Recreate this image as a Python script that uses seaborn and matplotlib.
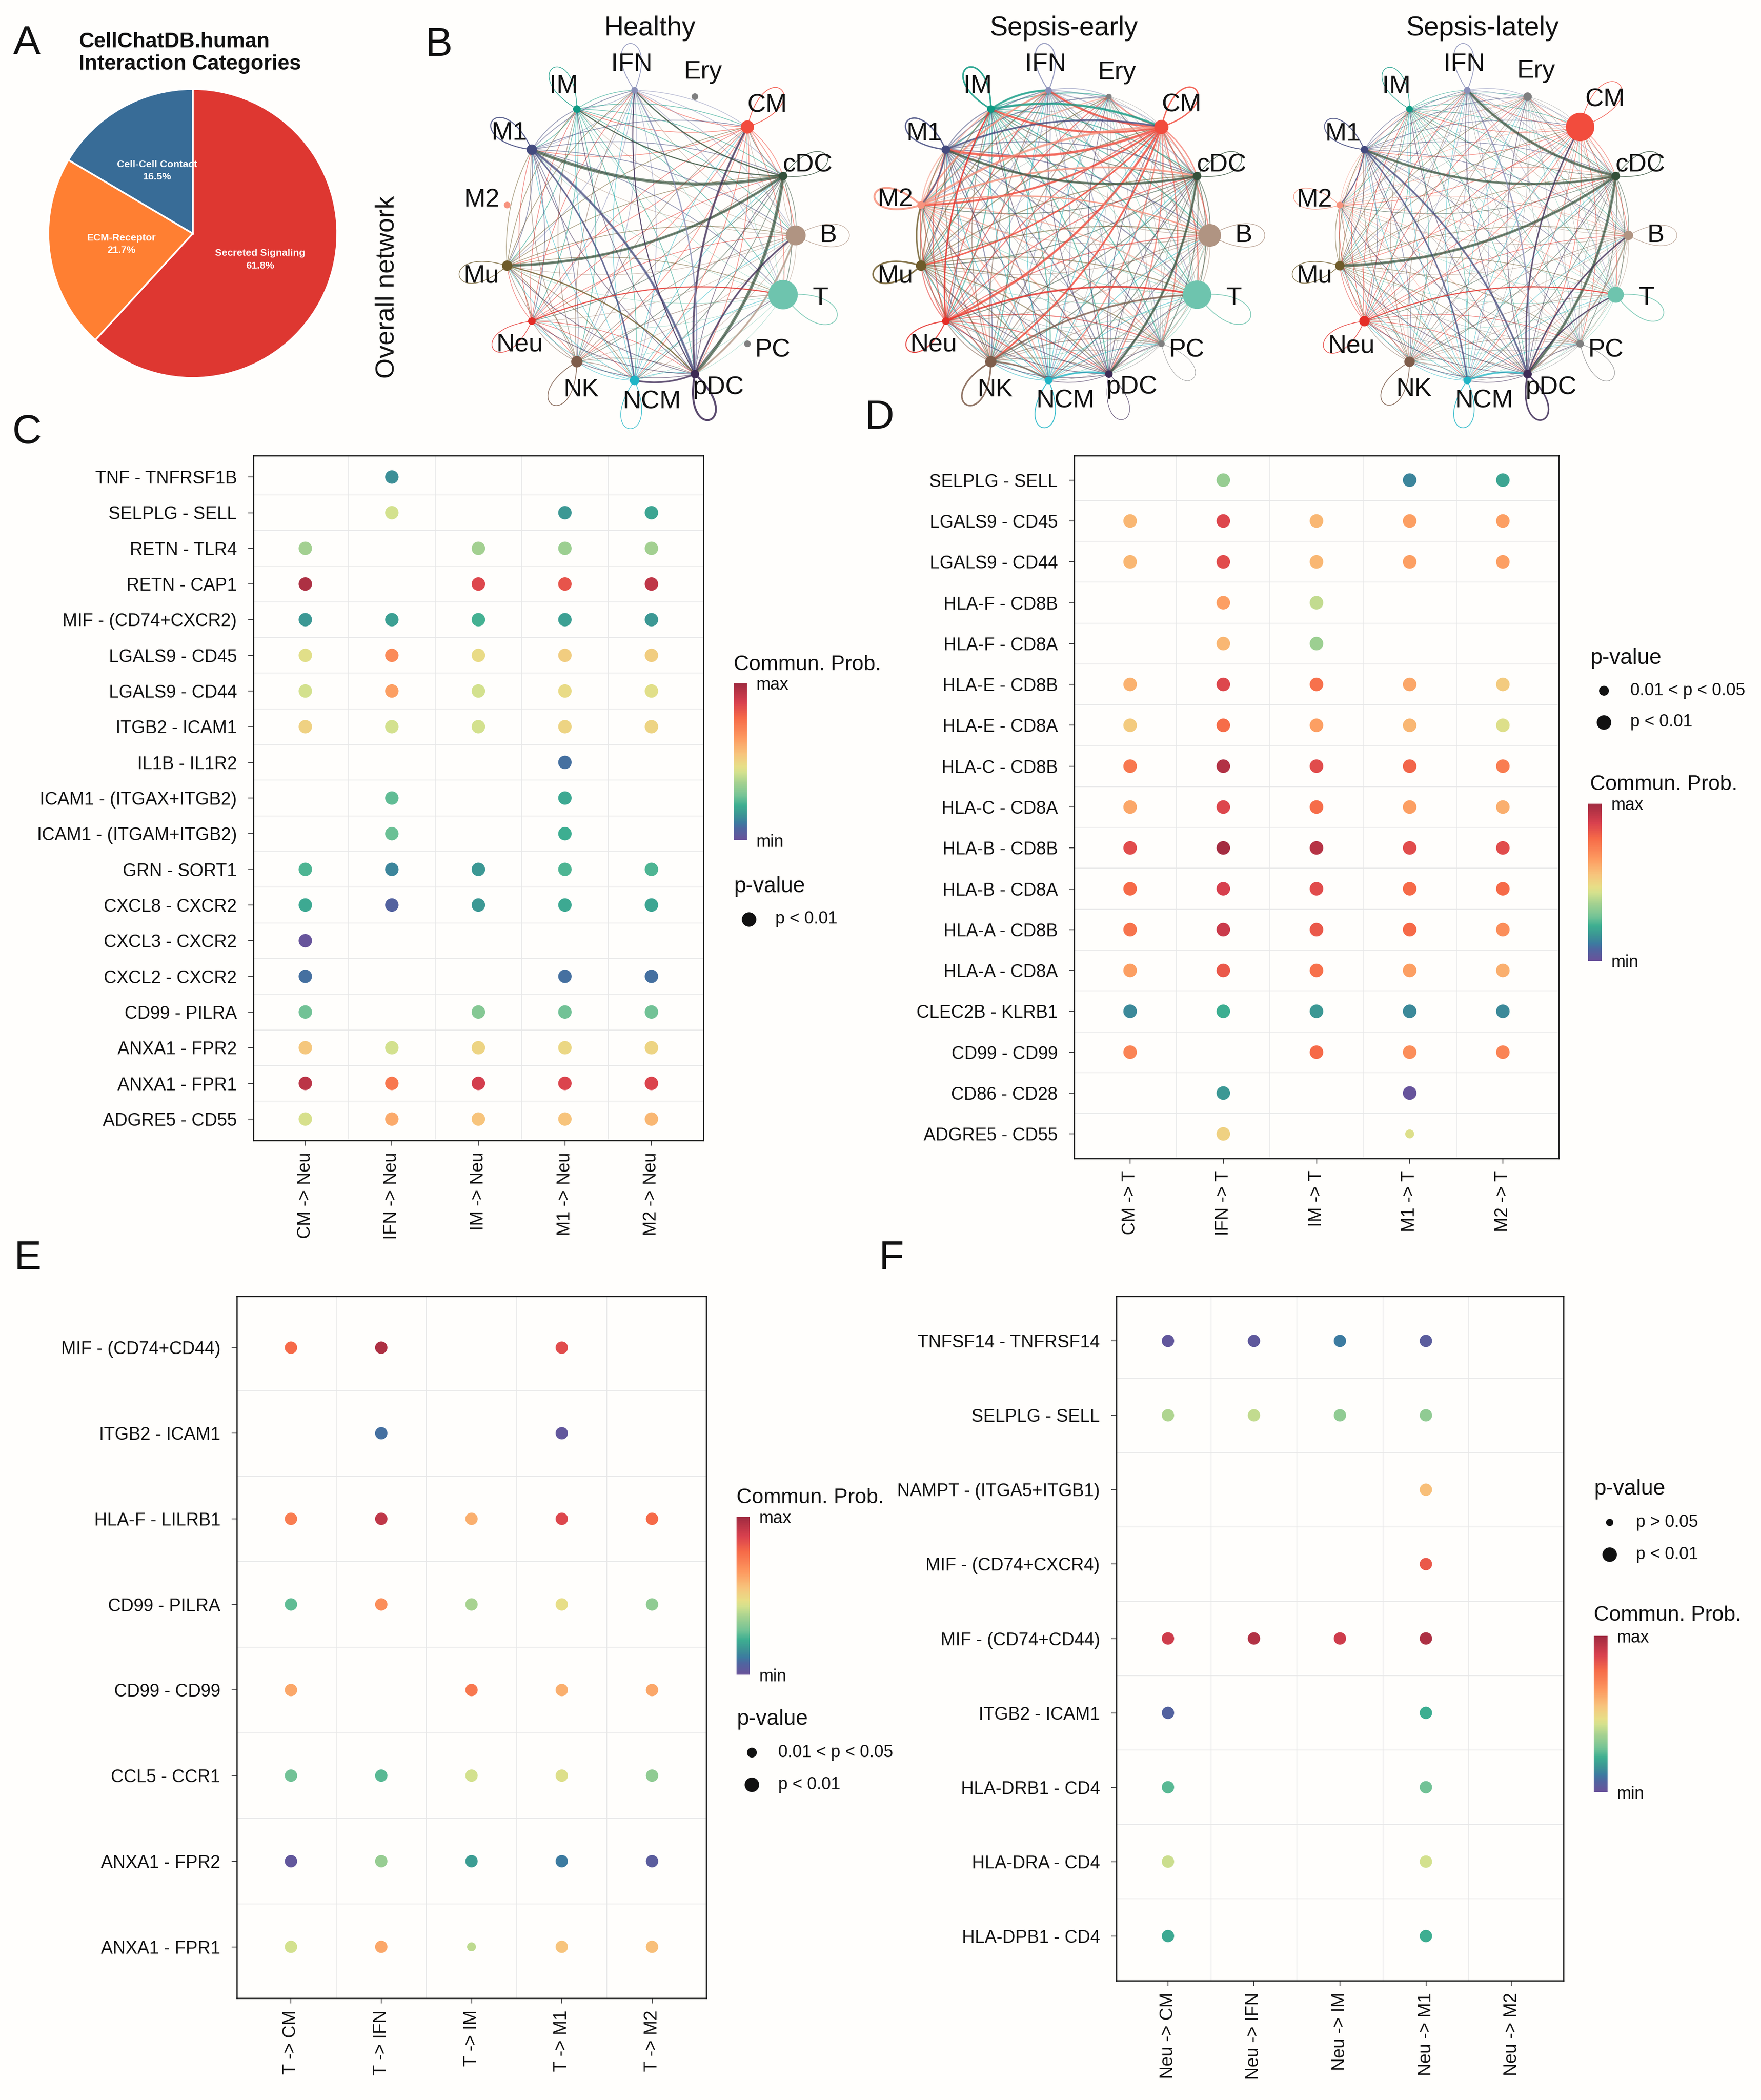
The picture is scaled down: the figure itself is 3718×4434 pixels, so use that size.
import numpy as np
import pandas as pd
import matplotlib
matplotlib.use('Agg')
import matplotlib.pyplot as plt
import seaborn as sns
from matplotlib.path import Path
from matplotlib.patches import PathPatch, Circle
from matplotlib.lines import Line2D
from matplotlib.cm import ScalarMappable
from matplotlib.colors import Normalize, LinearSegmentedColormap

###################################################################################
################################## DATA ###########################################
###################################################################################

# panel A - interaction categories
pie_labels = ['Secreted Signaling', 'ECM-Receptor', 'Cell-Cell Contact']
pie_pct = [61.8, 21.7, 16.5]
pie_colors = ['#DE3731', '#FF7F32', '#386C97']

# panel B - overall network
cell_types = ['B', 'cDC', 'CM', 'Ery', 'IFN', 'IM', 'M1', 'M2', 'Mu', 'Neu', 'NK', 'NCM', 'pDC', 'PC', 'T']
cell_colors = ['#B09482', '#34503A', '#F24C3D', '#7F7F7F', '#8A8FB8', '#0E9A83', '#434A7E', '#F7937E',
               '#6E5B2A', '#E52D27', '#7E5D4B', '#1FB5C6', '#3D2A55', '#808080', '#6EC4AE']
conditions = ['Healthy', 'Sepsis-early', 'Sepsis-lately']
node_size = {
    'Healthy':       [21, 9, 14, 7, 7, 8, 11, 7, 11, 8, 12, 10, 9, 7, 31],
    'Sepsis-early':  [24, 9, 15, 6, 7, 8, 9, 8, 11, 8, 12, 8, 8, 7, 30],
    'Sepsis-lately': [10, 9, 30, 9, 7, 7, 8, 7, 10, 11, 11, 8, 9, 8, 17],
}
# width of the faint links sent by each cell type (0 = no links)
link_width = {
    'Healthy':       [0.45, 0.55, 0.6, 0, 0.55, 0.55, 0.6, 0, 0.55, 0.5, 0.5, 0.5, 0.6, 0, 0.35],
    'Sepsis-early':  [0.6, 0.7, 1.0, 0.3, 0.7, 0.8, 0.8, 0.9, 0.8, 0.8, 0.7, 0.6, 0.6, 0.4, 0.5],
    'Sepsis-lately': [0.4, 0.5, 0.55, 0.3, 0.5, 0.45, 0.5, 0.4, 0.5, 0.5, 0.45, 0.45, 0.55, 0.35, 0.35],
}
loop_width = {
    'Healthy':       [0.4, 0.5, 0.6, 0, 0.6, 0.5, 0.8, 0, 0.5, 0.5, 0.6, 0.5, 1.5, 0, 0.6],
    'Sepsis-early':  [0.5, 0.5, 1.0, 0, 0.8, 1.2, 1.0, 1.5, 1.2, 0.8, 1.2, 0.7, 0.4, 0.3, 0.6],
    'Sepsis-lately': [0.4, 0.5, 0.5, 0, 0.6, 0.5, 0.7, 0.5, 0.5, 0.5, 0.6, 0.6, 1.2, 0.4, 0.6],
}
strong_links = {
    'Healthy': [('cDC', 'M1', 2.4), ('cDC', 'Mu', 2.0), ('cDC', 'pDC', 2.4), ('pDC', 'CM', 1.6),
                ('M1', 'pDC', 1.8), ('M1', 'NCM', 1.2), ('pDC', 'B', 1.4), ('B', 'pDC', 1.4),
                ('cDC', 'IFN', 1.0), ('pDC', 'NCM', 1.4), ('IFN', 'pDC', 1.0), ('Mu', 'pDC', 1.0),
                ('cDC', 'IM', 0.9), ('Neu', 'T', 0.9), ('pDC', 'IFN', 0.8)],
    'Sepsis-early': [('CM', 'M1', 2.0), ('CM', 'IM', 1.6), ('CM', 'IFN', 1.6), ('CM', 'Neu', 1.8),
                     ('CM', 'M2', 1.6), ('CM', 'NK', 1.4), ('CM', 'Mu', 1.2), ('M2', 'CM', 1.8),
                     ('M2', 'cDC', 1.4), ('M2', 'B', 1.0), ('M2', 'IFN', 1.4), ('IM', 'CM', 1.8),
                     ('IM', 'IFN', 1.6), ('cDC', 'M1', 1.8), ('M1', 'CM', 1.4), ('cDC', 'pDC', 1.8),
                     ('Neu', 'T', 1.4), ('NK', 'T', 1.4), ('Mu', 'M2', 1.2), ('NCM', 'pDC', 1.4),
                     ('NK', 'NCM', 1.2), ('Neu', 'IM', 1.2), ('M1', 'M2', 1.2)],
    'Sepsis-lately': [('cDC', 'IFN', 2.0), ('cDC', 'M1', 1.8), ('cDC', 'Mu', 2.0), ('cDC', 'pDC', 2.0),
                      ('M1', 'pDC', 1.4), ('pDC', 'CM', 1.2), ('M1', 'NCM', 1.2), ('NCM', 'pDC', 1.4),
                      ('pDC', 'B', 1.2), ('B', 'pDC', 1.0), ('IFN', 'pDC', 1.0), ('M1', 'M2', 0.8),
                      ('Neu', 'T', 0.9), ('pDC', 'T', 1.0)],
}

# colour ramp of the Commun. Prob. scale (min -> max)
prob_ramp_pos = [0.0, 0.07, 0.11, 0.16, 0.22, 0.28, 0.37, 0.43, 0.47, 0.55, 0.65, 0.78, 0.88, 1.0]
prob_ramp_col = ['#6A529A', '#4F65A0', '#3C7BA0', '#3C9494', '#3DAE91', '#73C396', '#A8D290',
                 '#D2E18E', '#E7DE87', '#F7C47C', '#FD9A60', '#F66A48', '#D8404E', '#A02B40']

# panel C - sources -> Neu
C_rows = ['TNF - TNFRSF1B', 'SELPLG - SELL', 'RETN - TLR4', 'RETN - CAP1', 'MIF - (CD74+CXCR2)',
          'LGALS9 - CD45', 'LGALS9 - CD44', 'ITGB2 - ICAM1', 'IL1B - IL1R2', 'ICAM1 - (ITGAX+ITGB2)',
          'ICAM1 - (ITGAM+ITGB2)', 'GRN - SORT1', 'CXCL8 - CXCR2', 'CXCL3 - CXCR2', 'CXCL2 - CXCR2',
          'CD99 - PILRA', 'ANXA1 - FPR2', 'ANXA1 - FPR1', 'ADGRE5 - CD55']
C_cols = ['CM -> Neu', 'IFN -> Neu', 'IM -> Neu', 'M1 -> Neu', 'M2 -> Neu']
C_prob = [
    [None, 0.15, None, None, None],
    [None, 0.43, None, 0.17, 0.20],
    [0.36, None, 0.36, 0.35, 0.36],
    [0.97, None, 0.86, 0.83, 0.93],
    [0.17, 0.19, 0.23, 0.19, 0.17],
    [0.46, 0.69, 0.48, 0.52, 0.52],
    [0.43, 0.64, 0.43, 0.48, 0.46],
    [0.51, 0.43, 0.43, 0.50, 0.50],
    [None, None, None, 0.09, None],
    [None, 0.26, None, 0.21, None],
    [None, 0.27, None, 0.22, None],
    [0.24, 0.13, 0.17, 0.24, 0.24],
    [0.21, 0.06, 0.17, 0.21, 0.20],
    [0.01, None, None, None, None],
    [0.09, None, None, 0.09, 0.09],
    [0.28, None, 0.31, 0.28, 0.28],
    [0.54, 0.43, 0.50, 0.49, 0.50],
    [0.94, 0.74, 0.89, 0.87, 0.87],
    [0.44, 0.61, 0.55, 0.55, 0.58],
]
C_small = []
C_pval_labels = ['p < 0.01']

# panel D - sources -> T
D_rows = ['SELPLG - SELL', 'LGALS9 - CD45', 'LGALS9 - CD44', 'HLA-F - CD8B', 'HLA-F - CD8A',
          'HLA-E - CD8B', 'HLA-E - CD8A', 'HLA-C - CD8B', 'HLA-C - CD8A', 'HLA-B - CD8B',
          'HLA-B - CD8A', 'HLA-A - CD8B', 'HLA-A - CD8A', 'CLEC2B - KLRB1', 'CD99 - CD99',
          'CD86 - CD28', 'ADGRE5 - CD55']
D_cols = ['CM -> T', 'IFN -> T', 'IM -> T', 'M1 -> T', 'M2 -> T']
D_prob = [
    [None, 0.34, None, 0.13, 0.20],
    [0.58, 0.86, 0.58, 0.64, 0.64],
    [0.58, 0.85, 0.58, 0.64, 0.64],
    [None, 0.64, 0.41, None, None],
    [None, 0.58, 0.35, None, None],
    [0.59, 0.86, 0.76, 0.62, 0.53],
    [0.53, 0.77, 0.64, 0.58, 0.45],
    [0.74, 0.96, 0.85, 0.79, 0.73],
    [0.62, 0.86, 0.77, 0.64, 0.60],
    [0.85, 0.99, 0.95, 0.85, 0.85],
    [0.78, 0.88, 0.85, 0.78, 0.78],
    [0.75, 0.91, 0.82, 0.78, 0.68],
    [0.64, 0.82, 0.76, 0.64, 0.60],
    [0.14, 0.22, 0.17, 0.14, 0.14],
    [0.71, None, 0.78, 0.68, 0.71],
    [None, 0.17, None, 0.01, None],
    [None, 0.51, None, 0.45, None],
]
D_small = [('ADGRE5 - CD55', 'M1 -> T')]
D_pval_labels = ['0.01 < p < 0.05', 'p < 0.01']

# panel E - T -> targets
E_rows = ['MIF - (CD74+CD44)', 'ITGB2 - ICAM1', 'HLA-F - LILRB1', 'CD99 - PILRA', 'CD99 - CD99',
          'CCL5 - CCR1', 'ANXA1 - FPR2', 'ANXA1 - FPR1']
E_cols = ['T -> CM', 'T -> IFN', 'T -> IM', 'T -> M1', 'T -> M2']
E_prob = [
    [0.78, 0.97, None, 0.85, None],
    [None, 0.09, None, 0.02, None],
    [0.73, 0.93, 0.60, 0.86, 0.78],
    [0.26, 0.68, 0.37, 0.47, 0.33],
    [0.62, None, 0.74, 0.60, 0.62],
    [0.28, 0.25, 0.43, 0.45, 0.33],
    [0.02, 0.34, 0.18, 0.11, 0.04],
    [0.43, 0.62, 0.40, 0.55, 0.56],
]
E_small = [('ANXA1 - FPR1', 'T -> IM')]
E_pval_labels = ['0.01 < p < 0.05', 'p < 0.01']

# panel F - Neu -> targets
F_rows = ['TNFSF14 - TNFRSF14', 'SELPLG - SELL', 'NAMPT - (ITGA5+ITGB1)', 'MIF - (CD74+CXCR4)',
          'MIF - (CD74+CD44)', 'ITGB2 - ICAM1', 'HLA-DRB1 - CD4', 'HLA-DRA - CD4', 'HLA-DPB1 - CD4']
F_cols = ['Neu -> CM', 'Neu -> IFN', 'Neu -> IM', 'Neu -> M1', 'Neu -> M2']
F_prob = [
    [0.02, 0.03, 0.11, 0.04, None],
    [0.38, 0.41, 0.33, 0.33, None],
    [None, None, None, 0.56, None],
    [None, None, None, 0.82, None],
    [0.90, 0.96, 0.90, 0.97, None],
    [0.06, None, None, 0.22, None],
    [0.25, None, None, 0.28, None],
    [0.42, None, None, 0.43, None],
    [0.21, None, None, 0.22, None],
]
F_small = []
F_pval_labels = ['p > 0.05', 'p < 0.01']

###################################################################################
################################## FIGURE #########################################
###################################################################################

W, H, DPI = 3718, 4434, 200
BG = '#FFFEFC'
INK = '#111111'

sns.set_theme(style='white')
plt.rcParams['font.family'] = ['Liberation Sans', 'DejaVu Sans']

prob_cmap = LinearSegmentedColormap.from_list('commun_prob', list(zip(prob_ramp_pos, prob_ramp_col)))

fig = plt.figure(figsize=(W / DPI, H / DPI), dpi=DPI, facecolor=BG)


def rect(x0, y0, x1, y1):
    # pixel box (top-left origin) -> figure fraction
    return [x0 / W, 1 - y1 / H, (x1 - x0) / W, (y1 - y0) / H]


def ftext(x, y, s, **kw):
    kw.setdefault('color', INK)
    return fig.text(x / W, 1 - y / H, s, **kw)


# panel letters
for letter, x, y in [('A', 28, 114), ('B', 898, 118), ('C', 26, 936),
                     ('D', 1826, 905), ('E', 30, 2680), ('F', 1856, 2680)]:
    ftext(x, y, letter, fontsize=31, va='baseline', ha='left')

#################################### A: pie ########################################
ax = fig.add_axes(rect(407 - 305, 493 - 305, 407 + 305, 493 + 305))
wedges, texts = ax.pie(pie_pct, labels=[f'{l}\n{p}%' for l, p in zip(pie_labels, pie_pct)],
                       colors=pie_colors, startangle=90, counterclock=False, labeldistance=0.5,
                       wedgeprops=dict(edgecolor='white', linewidth=1.3),
                       textprops=dict(color='white', fontsize=7.6, fontweight='bold', linespacing=1.5))
for t in texts:
    t.set_ha('center')
    t.set_va('center')
    t.set_multialignment('center')
ax.set_xlim(-1, 1)
ax.set_ylim(-1, 1)
ax.set_aspect('equal')
ftext(166, 68, 'CellChatDB.human\nInteraction Categories', fontsize=16, fontweight='bold',
      va='top', ha='left', linespacing=1.2)

################################# B: networks #####################################
R_PX = 308
net_centers = {'Healthy': (1372, 497), 'Sepsis-early': (2246, 497), 'Sepsis-lately': (3130, 497)}
ftext(818, 606, 'Overall network', fontsize=20, rotation=90, va='center', ha='center')


def arc_path(p, q, curv=0.15):
    d = q - p
    c = (p + q) / 2 + curv * np.array([-d[1], d[0]])
    return Path([p, c, q], [Path.MOVETO, Path.CURVE3, Path.CURVE3])


def loop_path(p, ang, length, spread=29):
    reach = length / (0.75 * np.cos(np.deg2rad(spread)))
    u1 = np.array([np.cos(np.deg2rad(ang - spread)), np.sin(np.deg2rad(ang - spread))])
    u2 = np.array([np.cos(np.deg2rad(ang + spread)), np.sin(np.deg2rad(ang + spread))])
    return Path([p, p + reach * u1, p + reach * u2, p],
                [Path.MOVETO, Path.CURVE4, Path.CURVE4, Path.CURVE4])


n = len(cell_types)
angles = np.arange(n) * 360.0 / n
pos = np.column_stack([np.cos(np.deg2rad(angles)), np.sin(np.deg2rad(angles))])
idx = {c: i for i, c in enumerate(cell_types)}

for cond in conditions:
    cx, cy = net_centers[cond]
    lim = 1.45
    ax = fig.add_axes(rect(cx - lim * R_PX, cy - lim * R_PX, cx + lim * R_PX, cy + lim * R_PX))
    ax.set_xlim(-lim, lim)
    ax.set_ylim(-lim, lim)
    ax.set_aspect('equal')
    ax.axis('off')
    radii = np.array(node_size[cond]) / R_PX
    lw = link_width[cond]

    # faint links between all active cell types
    for i in range(n):
        for j in range(n):
            if i == j or lw[i] == 0 or lw[j] == 0:
                continue
            ax.add_patch(PathPatch(arc_path(pos[i], pos[j]), fc='none', ec=cell_colors[i],
                                   lw=lw[i], alpha=0.55, zorder=1))
    # strong links
    for s, t, w in strong_links[cond]:
        i, j = idx[s], idx[t]
        ax.add_patch(PathPatch(arc_path(pos[i], pos[j]), fc='none', ec=cell_colors[i],
                               lw=w, alpha=0.65, zorder=2))
    # self loops, nodes and labels
    for i, ct in enumerate(cell_types):
        a = angles[i]
        if loop_width[cond][i] > 0:
            ax.add_patch(PathPatch(loop_path(pos[i], a, 0.30 + radii[i]), fc='none',
                                   ec=cell_colors[i], lw=loop_width[cond][i], alpha=0.85, zorder=2))
        ax.add_patch(Circle(pos[i], radii[i], fc=cell_colors[i], ec='none', zorder=4))
        la = np.deg2rad(a + 45 * max(0.0, -np.sin(np.deg2rad(a))))
        off = radii[i] + 48 / R_PX
        ax.text(pos[i, 0] + off * np.cos(la), pos[i, 1] + off * np.sin(la), ct,
                fontsize=19.5, ha='center', va='center', color=INK, zorder=5)
    ax.text(0, 1.37, cond, fontsize=20.5, ha='center', va='baseline', color=INK, clip_on=False)

############################### C-F: bubble plots #################################


def prob_colorbar(box, title_xy):
    cax = fig.add_axes(rect(*box))
    cb = fig.colorbar(ScalarMappable(Normalize(0, 1), prob_cmap), cax=cax)
    cb.set_ticks([0, 1], labels=['min', 'max'])
    cb.outline.set_visible(False)
    cax.tick_params(length=0, labelsize=13, pad=7, colors=INK)
    ftext(title_xy[0], title_xy[1], 'Commun. Prob.', fontsize=16, va='center')


def pvalue_legend(title_xy, dot_x, rows_y, labels, diameters):
    ftext(title_xy[0], title_xy[1], 'p-value', fontsize=16.5, va='center')
    for lab, y, d in zip(labels, rows_y, diameters):
        fig.add_artist(Line2D([dot_x / W], [1 - y / H], marker='o', ls='', ms=d,
                              color=INK, transform=fig.transFigure))
        ftext(dot_x + 56, y, lab, fontsize=13, va='center')


def bubble_panel(box, rows, cols, prob, small, big_s, small_s):
    recs = []
    for r, row in enumerate(rows):
        for c, col in enumerate(cols):
            v = prob[r][c]
            if v is None:
                continue
            recs.append(dict(col=c, row=r, prob=v,
                             pval='small' if (row, col) in small else 'big'))
    df = pd.DataFrame(recs)
    ax = fig.add_axes(rect(*box))
    ax.set_facecolor(BG)
    for k in range(1, len(cols)):
        ax.axvline(k - 0.5, color='#E8E8E8', lw=0.6, zorder=0)
    for k in range(1, len(rows)):
        ax.axhline(k - 0.5, color='#E8E8E8', lw=0.6, zorder=0)
    sns.scatterplot(data=df, x='col', y='row', hue='prob', hue_norm=(0, 1), palette=prob_cmap,
                    size='pval', sizes={'big': big_s, 'small': small_s}, linewidth=0,
                    legend=False, ax=ax, zorder=3)
    ax.set_xlim(-0.6, len(cols) - 0.4)
    ax.set_ylim(len(rows) - 0.4, -0.6)
    ax.set_xticks(range(len(cols)), cols, rotation=90)
    ax.set_yticks(range(len(rows)), rows)
    ax.set_xlabel('')
    ax.set_ylabel('')
    ax.tick_params(axis='both', which='major', bottom=True, left=True, length=4, width=0.6,
                   color='#333333', labelsize=13.5, labelcolor=INK)
    ax.tick_params(axis='y', pad=8.5)
    ax.tick_params(axis='x', pad=5)
    for sp in ax.spines.values():
        sp.set_visible(True)
        sp.set_color(INK)
        sp.set_linewidth(0.9)
    return ax


# C
bubble_panel((535, 962, 1485, 2408), C_rows, C_cols, C_prob, C_small, 104, 46)
prob_colorbar((1549, 1443, 1577, 1774), (1549, 1404))
pvalue_legend((1549, 1872), 1581, [1941], C_pval_labels, [10])

# D
bubble_panel((2268, 962, 3291, 2446), D_rows, D_cols, D_prob, D_small, 106, 46)
pvalue_legend((3357, 1390), 3386, [1458, 1525], D_pval_labels, [6.5, 10])
prob_colorbar((3353, 1697, 3382, 2029), (3357, 1657))

# E
bubble_panel((500, 2737, 1491, 4219), E_rows, E_cols, E_prob, E_small, 88, 46)
prob_colorbar((1555, 3203, 1583, 3536), (1555, 3162))
pvalue_legend((1555, 3630), 1587, [3700, 3768], E_pval_labels, [6.5, 10])

# F
bubble_panel((2357, 2737, 3301, 4182), F_rows, F_cols, F_prob, F_small, 88, 46)
pvalue_legend((3365, 3144), 3398, [3214, 3282], F_pval_labels, [4.5, 10])
prob_colorbar((3365, 3454, 3394, 3784), (3365, 3411))

fig.savefig('out.png', dpi=DPI, facecolor=BG)
